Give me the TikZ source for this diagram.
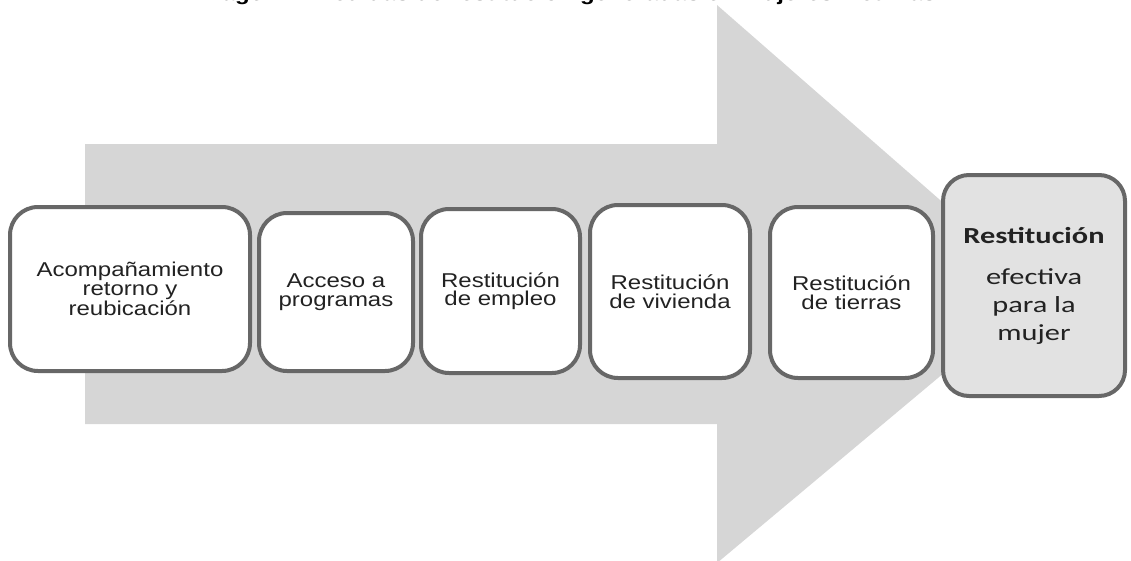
\documentclass[tikz,border=0pt]{standalone}
\usepackage{fontspec}
\setmainfont{Liberation Sans}
\newfontfamily\stepfont[FakeStretch=1.2]{Liberation Sans}
\newfontfamily\goalfont[FakeStretch=1.32]{Carlito}
\newfontfamily\headfont[FakeStretch=1.2]{Liberation Sans}
\definecolor{arrowgray}{HTML}{D6D6D6}
\definecolor{edgegray}{HTML}{676767}
\definecolor{goalfill}{HTML}{E2E2E2}
\definecolor{inkgray}{HTML}{222222}
\begin{document}
\begin{tikzpicture}[x=1pt,y=-1pt,
  stepbox/.style={draw=edgegray, line width=4pt, fill=white,
    rounded corners=28pt, inner sep=0pt, align=center, text=inkgray,
    font=\stepfont\fontsize{20}{18.5}\selectfont},
  goalbox/.style={stepbox, fill=goalfill, rounded corners=26pt,
    font=\goalfont\fontsize{23}{28}\selectfont}]
\useasboundingbox (0,0) rectangle (1131,560);

% caption line, cut by the top edge of the page
\begin{scope}
  \clip (0,0) rectangle (1131,560);
  \node[anchor=base, font=\headfont\bfseries\fontsize{20}{24}\selectfont, text=black]
    (caption) at (565,0.5) {Imagen 4. Medidas de restitución generadas en mujeres víctimas};
\end{scope}

% large background arrow
\fill[arrowgray] (85,144) -- (717,144) -- (717,5) -- (1043,290)
  -- (717,563) -- (717,424) -- (85,424) -- cycle;

% steps
\node[stepbox, minimum width=240pt, minimum height=164pt] (b1) at (130,289)
  {Acompañamiento\\retorno y\\reubicación};
\node[stepbox, minimum width=154pt, minimum height=158pt] (b2) at (336,292)
  {Acceso a\\programas};
\node[stepbox, minimum width=159pt, minimum height=164pt] (b3) at (500.5,291)
  {Restitución\\de empleo};
\node[stepbox, minimum width=160pt, minimum height=173pt] (b4) at (670,291.5)
  {Restitución\\de vivienda};
\node[stepbox, minimum width=163pt, minimum height=171pt] (b5) at (851.5,292.5)
  {Restitución\\de tierras};

% outcome
\node[goalbox, minimum width=182pt, minimum height=221pt] (b6) at (1034,285.5)
  {\textbf{Restitución}\\[13pt]efectiva\\para la\\mujer};
\end{tikzpicture}
\end{document}
